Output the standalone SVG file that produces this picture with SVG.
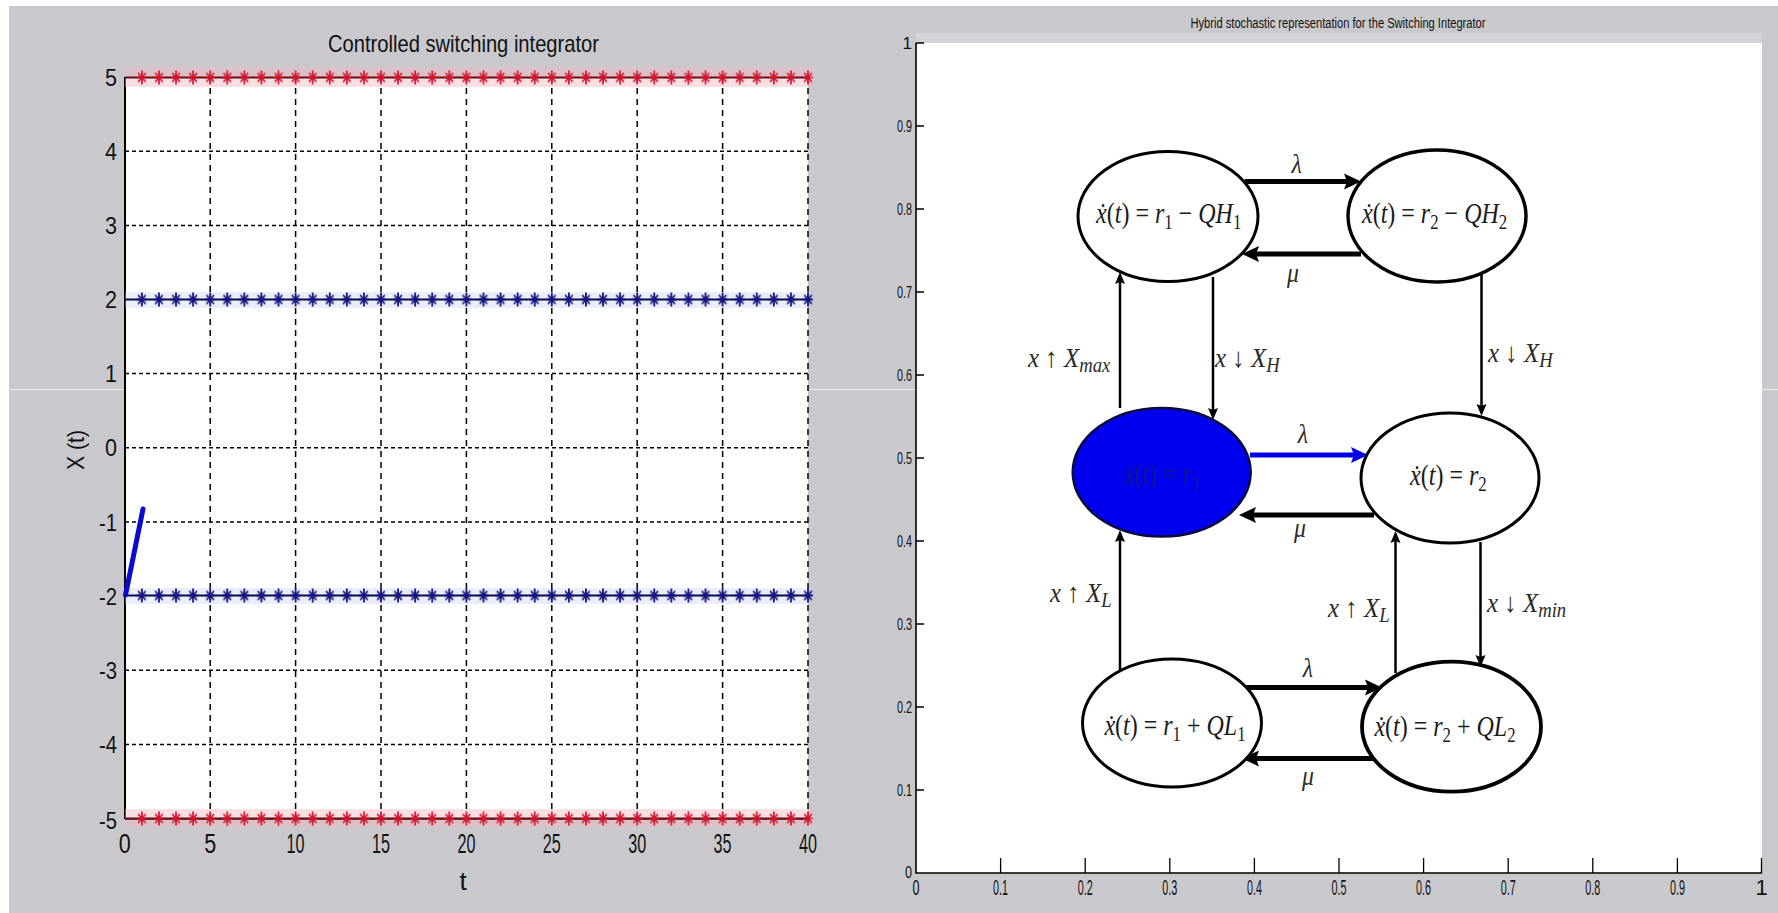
<svg xmlns="http://www.w3.org/2000/svg" width="1778" height="913" viewBox="0 0 1778 913">
<style>
.ax{font-family:"Liberation Sans",Arial,sans-serif;fill:#111}
.mt{font-family:"Liberation Serif","DejaVu Serif",serif;fill:#1a1a1a;font-size:30px}
.lb{font-family:"Liberation Serif","DejaVu Serif",serif;fill:#2a2a2a;font-size:28px}
.i{font-style:italic}
.sb{font-size:21px}
.gh{stroke:#000;stroke-width:1.5;stroke-dasharray:4 3;fill:none}
.gv{stroke:#000;stroke-width:1.5;stroke-dasharray:6 5;fill:none}
.nd{fill:#fff;stroke:#000;stroke-width:3}
.thick{stroke:#000;stroke-width:5;fill:none}
.thin{stroke:#000;stroke-width:2.5;fill:none}
</style>
<defs>
<pattern id="pR" patternUnits="userSpaceOnUse" x="133.34" y="-8" width="17.08" height="16">
<path d="M8.54,1 V15 M3.5,8 H13.5 M4.8,3.5 L12.3,12.5 M12.3,3.5 L4.8,12.5" stroke="#d4142e" stroke-width="1.7" fill="none"/>
</pattern>
<pattern id="pB" patternUnits="userSpaceOnUse" x="133.34" y="-8" width="17.08" height="16">
<path d="M8.54,1 V15 M3.5,8 H13.5 M4.8,3.5 L12.3,12.5 M12.3,3.5 L4.8,12.5" stroke="#16167e" stroke-width="1.8" fill="none"/>
</pattern>
<marker id="ahK" markerUnits="userSpaceOnUse" markerWidth="20" markerHeight="20" refX="8" refY="8" orient="auto" overflow="visible">
<path d="M0,0 L17,8 L0,16 L3,8 z" fill="#000"/>
</marker>
<marker id="ahB" markerUnits="userSpaceOnUse" markerWidth="20" markerHeight="20" refX="8" refY="8" orient="auto" overflow="visible">
<path d="M0,0 L17,8 L0,16 L3,8 z" fill="#0000e8"/>
</marker>
<marker id="ahT" markerUnits="userSpaceOnUse" markerWidth="14" markerHeight="14" refX="6" refY="5" orient="auto" overflow="visible">
<path d="M0,0 L12,5 L0,10 L2,5 z" fill="#000"/>
</marker>
</defs>

<!-- background -->
<rect x="0" y="0" width="1778" height="913" fill="#fff"/>
<rect x="9" y="6" width="1769" height="907" fill="#c9c9cd"/>
<line x1="9" y1="389.5" x2="1778" y2="389.5" stroke="#ececee" stroke-width="1"/>

<!-- LEFT PLOT -->
<g id="left-plot">
<rect x="125" y="77" width="683" height="742" fill="#fff"/>
<text class="ax" x="463.5" y="52" font-size="24" text-anchor="middle" textLength="271" lengthAdjust="spacingAndGlyphs">Controlled switching integrator</text>
<g id="grid">
<path class="gh" d="M125,151.2H808 M125,225.4H808 M125,373.6H808 M125,447.8H808 M125,522H808 M125,670.2H808 M125,744.4H808"/>
<path class="gv" d="M210.2,77V819 M295.6,77V819 M381,77V819 M466.4,77V819 M551.8,77V819 M637.2,77V819 M722.6,77V819 M808,77V819"/>
</g>
<line x1="125" y1="77" x2="125" y2="819" stroke="#000" stroke-width="2"/>
<line x1="125" y1="819" x2="808" y2="819" stroke="#000" stroke-width="2"/>
<!-- halos -->
<rect x="125" y="67" width="688" height="20" fill="#f2b7c2" opacity="0.45"/>
<rect x="125" y="809" width="688" height="18" fill="#f2b7c2" opacity="0.45"/>
<rect x="125" y="292" width="688" height="16" fill="#c4caf0" opacity="0.35"/>
<rect x="125" y="588" width="688" height="16" fill="#c4caf0" opacity="0.35"/>
<!-- data lines -->
<line x1="125" y1="77.5" x2="810" y2="77.5" stroke="#6a0c12" stroke-width="2"/>
<line x1="125" y1="818.5" x2="810" y2="818.5" stroke="#6a0c12" stroke-width="2"/>
<line x1="125" y1="299.5" x2="810" y2="299.5" stroke="#0c0c4a" stroke-width="2"/>
<line x1="125" y1="595.5" x2="810" y2="595.5" stroke="#0c0c4a" stroke-width="2"/>
<g transform="translate(0,77.5)"><rect x="133.34" y="-8" width="683.2" height="16" fill="url(#pR)"/></g>
<g transform="translate(0,818.5)"><rect x="133.34" y="-8" width="683.2" height="16" fill="url(#pR)"/></g>
<g transform="translate(0,299.5)"><rect x="133.34" y="-8" width="683.2" height="16" fill="url(#pB)"/></g>
<g transform="translate(0,595.5)"><rect x="133.34" y="-8" width="683.2" height="16" fill="url(#pB)"/></g>
<line x1="125.5" y1="595" x2="143" y2="509" stroke="#0a0ad0" stroke-width="5" stroke-linecap="round"/>
<!-- y tick labels -->
<g class="ax" font-size="23" text-anchor="end">
<text x="117" y="86" textLength="12" lengthAdjust="spacingAndGlyphs">5</text>
<text x="117" y="160" textLength="12" lengthAdjust="spacingAndGlyphs">4</text>
<text x="117" y="234" textLength="12" lengthAdjust="spacingAndGlyphs">3</text>
<text x="117" y="308" textLength="12" lengthAdjust="spacingAndGlyphs">2</text>
<text x="117" y="382" textLength="12" lengthAdjust="spacingAndGlyphs">1</text>
<text x="117" y="456" textLength="12" lengthAdjust="spacingAndGlyphs">0</text>
<text x="117" y="531" textLength="18" lengthAdjust="spacingAndGlyphs">-1</text>
<text x="117" y="605" textLength="18" lengthAdjust="spacingAndGlyphs">-2</text>
<text x="117" y="679" textLength="18" lengthAdjust="spacingAndGlyphs">-3</text>
<text x="117" y="753" textLength="18" lengthAdjust="spacingAndGlyphs">-4</text>
<text x="117" y="829" textLength="18" lengthAdjust="spacingAndGlyphs">-5</text>
</g>
<!-- x tick labels -->
<g class="ax" font-size="27" text-anchor="middle">
<text x="124.8" y="853" textLength="12" lengthAdjust="spacingAndGlyphs">0</text>
<text x="210.2" y="853" textLength="12" lengthAdjust="spacingAndGlyphs">5</text>
<text x="295.6" y="853" textLength="18" lengthAdjust="spacingAndGlyphs">10</text>
<text x="381" y="853" textLength="18" lengthAdjust="spacingAndGlyphs">15</text>
<text x="466.4" y="853" textLength="18" lengthAdjust="spacingAndGlyphs">20</text>
<text x="551.8" y="853" textLength="18" lengthAdjust="spacingAndGlyphs">25</text>
<text x="637.2" y="853" textLength="18" lengthAdjust="spacingAndGlyphs">30</text>
<text x="722.6" y="853" textLength="18" lengthAdjust="spacingAndGlyphs">35</text>
<text x="808" y="853" textLength="18" lengthAdjust="spacingAndGlyphs">40</text>
</g>
<text class="ax" x="463" y="890" font-size="26" text-anchor="middle">t</text>
<text class="ax" transform="translate(84,450) rotate(-90)" x="0" y="0" font-size="24" text-anchor="middle" textLength="40" lengthAdjust="spacingAndGlyphs">X (t)</text>
</g>

<!-- RIGHT PLOT -->
<g id="right-plot">
<rect x="916" y="33" width="846" height="10" fill="#d3d3d7"/>
<rect x="916" y="43" width="846" height="830" fill="#fff"/>
<text class="ax" x="1338" y="28" font-size="14" text-anchor="middle" textLength="295" lengthAdjust="spacingAndGlyphs">Hybrid stochastic representation for the Switching Integrator</text>
<path d="M916,43V873H1762" stroke="#000" stroke-width="1.6" fill="none"/>
<path d="M916,43H924 M916,126H924 M916,209H924 M916,292H924 M916,375H924 M916,458H924 M916,541H924 M916,624H924 M916,707H924 M916,790H924" stroke="#000" stroke-width="1.3"/>
<path d="M1000.6,873V858 M1085.2,873V858 M1169.8,873V858 M1254.4,873V858 M1339,873V858 M1423.6,873V858 M1508.2,873V858 M1592.8,873V858 M1677.4,873V858 M1761.5,873V858" stroke="#000" stroke-width="1.3"/>
<g class="ax" font-size="17" text-anchor="end">
<text x="912" y="49">1</text>
<text x="912" y="132" textLength="15" lengthAdjust="spacingAndGlyphs">0.9</text>
<text x="912" y="215" textLength="15" lengthAdjust="spacingAndGlyphs">0.8</text>
<text x="912" y="298" textLength="15" lengthAdjust="spacingAndGlyphs">0.7</text>
<text x="912" y="381" textLength="15" lengthAdjust="spacingAndGlyphs">0.6</text>
<text x="912" y="464" textLength="15" lengthAdjust="spacingAndGlyphs">0.5</text>
<text x="912" y="547" textLength="15" lengthAdjust="spacingAndGlyphs">0.4</text>
<text x="912" y="630" textLength="15" lengthAdjust="spacingAndGlyphs">0.3</text>
<text x="912" y="713" textLength="15" lengthAdjust="spacingAndGlyphs">0.2</text>
<text x="912" y="796" textLength="15" lengthAdjust="spacingAndGlyphs">0.1</text>
<text x="912" y="878" textLength="7" lengthAdjust="spacingAndGlyphs">0</text>
</g>
<g class="ax" font-size="22" text-anchor="middle">
<text x="916" y="895" textLength="7" lengthAdjust="spacingAndGlyphs">0</text>
<text x="1000.6" y="895" textLength="15" lengthAdjust="spacingAndGlyphs">0.1</text>
<text x="1085.2" y="895" textLength="15" lengthAdjust="spacingAndGlyphs">0.2</text>
<text x="1169.8" y="895" textLength="15" lengthAdjust="spacingAndGlyphs">0.3</text>
<text x="1254.4" y="895" textLength="15" lengthAdjust="spacingAndGlyphs">0.4</text>
<text x="1339" y="895" textLength="15" lengthAdjust="spacingAndGlyphs">0.5</text>
<text x="1423.6" y="895" textLength="15" lengthAdjust="spacingAndGlyphs">0.6</text>
<text x="1508.2" y="895" textLength="15" lengthAdjust="spacingAndGlyphs">0.7</text>
<text x="1592.8" y="895" textLength="15" lengthAdjust="spacingAndGlyphs">0.8</text>
<text x="1677.4" y="895" textLength="15" lengthAdjust="spacingAndGlyphs">0.9</text>
<text x="1761.5" y="895">1</text>
</g>
</g>

<!-- CONNECTORS -->
<g id="connectors">
<path class="thick" d="M1245,181.5H1352" marker-end="url(#ahK)"/>
<path class="thick" d="M1361,254H1251" marker-end="url(#ahK)"/>
<path class="thin" d="M1120,408V278" marker-end="url(#ahT)"/>
<path class="thin" d="M1213,277V414" marker-end="url(#ahT)"/>
<path class="thin" d="M1481.5,272V410" marker-end="url(#ahT)"/>
<path d="M1250,455H1359" stroke="#0000e8" stroke-width="5" fill="none" marker-end="url(#ahB)"/>
<path class="thick" d="M1374,515H1248" marker-end="url(#ahK)"/>
<path class="thin" d="M1120,671V536" marker-end="url(#ahT)"/>
<path class="thin" d="M1395.5,673V537" marker-end="url(#ahT)"/>
<path class="thin" d="M1480.5,542V661" marker-end="url(#ahT)"/>
<path class="thick" d="M1243.5,687.5H1373" marker-end="url(#ahK)"/>
<path class="thick" d="M1373,758.5H1251" marker-end="url(#ahK)"/>
<g class="lb" text-anchor="middle" font-size="26">
<text class="i" transform="translate(1296.7,173) scale(0.85,1)">λ</text>
<text class="i" transform="translate(1293,282) scale(0.85,1)">μ</text>
<text class="i" transform="translate(1303,443) scale(0.85,1)">λ</text>
<text class="i" transform="translate(1300,537) scale(0.85,1)">μ</text>
<text class="i" transform="translate(1308,677) scale(0.85,1)">λ</text>
<text class="i" transform="translate(1308,785) scale(0.85,1)">μ</text>
</g>
<g class="lb">
<text transform="translate(1028,367) scale(0.89,1)"><tspan class="i">x</tspan> ↑ <tspan class="i">X</tspan><tspan class="i sb" dy="5">max</tspan></text>
<text transform="translate(1215,367) scale(0.89,1)"><tspan class="i">x</tspan> ↓ <tspan class="i">X</tspan><tspan class="i sb" dy="5">H</tspan></text>
<text transform="translate(1488,362) scale(0.89,1)"><tspan class="i">x</tspan> ↓ <tspan class="i">X</tspan><tspan class="i sb" dy="5">H</tspan></text>
<text transform="translate(1050,602) scale(0.89,1)"><tspan class="i">x</tspan> ↑ <tspan class="i">X</tspan><tspan class="i sb" dy="5">L</tspan></text>
<text transform="translate(1328,617) scale(0.89,1)"><tspan class="i">x</tspan> ↑ <tspan class="i">X</tspan><tspan class="i sb" dy="5">L</tspan></text>
<text transform="translate(1487,612) scale(0.89,1)"><tspan class="i">x</tspan> ↓ <tspan class="i">X</tspan><tspan class="i sb" dy="5">min</tspan></text>
</g>
</g>

<!-- NODES -->
<g id="node-r1-QH1">
<ellipse class="nd" cx="1168" cy="216.5" rx="90" ry="65"/>
<text class="mt" transform="translate(1168.7,223) scale(0.8,1)" text-anchor="middle"><tspan class="i">ẋ</tspan>(<tspan class="i">t</tspan>) = <tspan class="i">r</tspan><tspan class="sb" dy="6">1</tspan><tspan dy="-6"> − </tspan><tspan class="i">QH</tspan><tspan class="sb" dy="6">1</tspan></text>
</g>
<g id="node-r2-QH2">
<ellipse class="nd" cx="1437" cy="216" rx="89" ry="66" style="stroke-width:3.4"/>
<text class="mt" transform="translate(1434.6,223) scale(0.8,1)" text-anchor="middle"><tspan class="i">ẋ</tspan>(<tspan class="i">t</tspan>) = <tspan class="i">r</tspan><tspan class="sb" dy="6">2</tspan><tspan dy="-6"> − </tspan><tspan class="i">QH</tspan><tspan class="sb" dy="6">2</tspan></text>
</g>
<g id="node-r1">
<ellipse cx="1161.7" cy="472.3" rx="89" ry="64.3" fill="#0000ee" stroke="#0b0b3c" stroke-width="2.5"/>
<text class="mt" transform="translate(1161.7,484) scale(0.8,1)" text-anchor="middle" style="fill:#14148a"><tspan class="i">ẋ</tspan>(<tspan class="i">t</tspan>) = <tspan class="i">r</tspan><tspan class="sb" dy="6">1</tspan></text>
</g>
<g id="node-r2">
<ellipse class="nd" cx="1450" cy="478" rx="89" ry="65"/>
<text class="mt" transform="translate(1448.4,485) scale(0.8,1)" text-anchor="middle"><tspan class="i">ẋ</tspan>(<tspan class="i">t</tspan>) = <tspan class="i">r</tspan><tspan class="sb" dy="6">2</tspan></text>
</g>
<g id="node-r1-QL1">
<ellipse class="nd" cx="1172" cy="723" rx="89.5" ry="64"/>
<text class="mt" transform="translate(1175,735) scale(0.8,1)" text-anchor="middle"><tspan class="i">ẋ</tspan>(<tspan class="i">t</tspan>) = <tspan class="i">r</tspan><tspan class="sb" dy="6">1</tspan><tspan dy="-6"> + </tspan><tspan class="i">QL</tspan><tspan class="sb" dy="6">1</tspan></text>
</g>
<g id="node-r2-QL2">
<ellipse class="nd" cx="1451.5" cy="726.7" rx="89.5" ry="65" style="stroke-width:3.8"/>
<text class="mt" transform="translate(1445,736) scale(0.8,1)" text-anchor="middle"><tspan class="i">ẋ</tspan>(<tspan class="i">t</tspan>) = <tspan class="i">r</tspan><tspan class="sb" dy="6">2</tspan><tspan dy="-6"> + </tspan><tspan class="i">QL</tspan><tspan class="sb" dy="6">2</tspan></text>
</g>
</svg>
